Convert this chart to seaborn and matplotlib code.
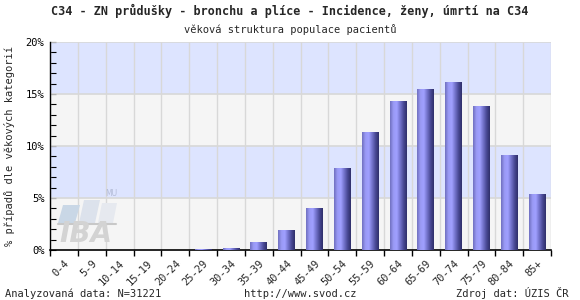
import numpy as np
import pandas as pd
import matplotlib
matplotlib.use("Agg")
import matplotlib.pyplot as plt
from matplotlib.colors import LinearSegmentedColormap
from matplotlib.patches import Polygon
import seaborn as sns

categories = ["0-4", "5-9", "10-14", "15-19", "20-24", "25-29", "30-34", "35-39",
              "40-44", "45-49", "50-54", "55-59", "60-64", "65-69", "70-74",
              "75-79", "80-84", "85+"]
values = [0.0, 0.0, 0.0, 0.0, 0.01, 0.1, 0.2, 0.78, 1.92, 4.04, 7.9, 11.35,
          14.3, 15.5, 16.15, 13.85, 9.13, 5.38]
ytick_vals = [0, 5, 10, 15, 20]
ytick_labels = ["0%", "5%", "10%", "15%", "20%"]

title = "C34 - ZN průdušky - bronchu a plíce - Incidence, ženy, úmrtí na C34"
subtitle = "věková struktura populace pacientů"
ylabel = "% případů dle věkových kategorií"
foot_left = "Analyzovaná data: N=31221"
foot_mid = "http://www.svod.cz"
foot_right = "Zdroj dat: ÚZIS ČR"

sns.set_theme(style="white")
plt.rcParams["font.family"] = ["DejaVu Sans Mono", "DejaVu Sans"]

df = pd.DataFrame({"cat": categories, "val": values})

fig = plt.figure(figsize=(5.8, 3.0), dpi=100)
ax = fig.add_axes([50/580, 50/300, 501/580, 208/300])

sns.barplot(data=df, x="cat", y="val", color="#8888dd", width=0.6, ax=ax,
            zorder=3, saturation=1, edgecolor="none")

n = len(categories)

# gradient fill for bars
cmap = LinearSegmentedColormap.from_list(
    "cyl", ["#7070c0", "#9a9af5", "#a0a0ff", "#7474cc", "#4a4a96", "#2f2f6a"])
grad = np.linspace(0, 1, 64).reshape(1, -1)
for p in list(ax.containers[0].patches):
    h = p.get_height()
    if h <= 0:
        continue
    x0 = p.get_x(); w = p.get_width()
    p.set_facecolor("none")
    im = ax.imshow(grad, cmap=cmap, aspect="auto", extent=[x0, x0 + w, 0, h],
                   zorder=3, interpolation="bilinear")
    im.set_clip_path(p)

# background bands
for i, lo in enumerate(range(0, 20, 5)):
    ax.axhspan(lo, lo + 5, color="#f5f5f5" if i % 2 == 0 else "#dde4ff", zorder=0, lw=0)

ax.set_xlim(-0.5, n - 0.5)
ax.set_ylim(0, 20)
ax.set_aspect("auto")

# grid lines
for xb in np.arange(-0.5, n, 1.0):
    ax.axvline(xb, color="#d8d8d8", lw=1, zorder=1)
for yv in ytick_vals[1:]:
    ax.axhline(yv, color="#d8d8d8", lw=1.2, zorder=1)

# watermark logo (pixel-based decoration)
def px(x, y):
    return ((x - 50) / (501 / n) - 0.5, (250 - y) / 10.4)

blocks = [
    ([(58, 223), (75, 223), (80, 205), (63, 205)], "#c9d7e6"),
    ([(79, 223), (95, 223), (100, 200), (84, 200)], "#dce2ec"),
    ([(98, 223), (113, 223), (117, 203), (102, 203)], "#e6e9ef"),
]
for pts, col in blocks:
    ax.add_patch(Polygon([px(*q) for q in pts], closed=True, facecolor=col,
                         edgecolor="none", zorder=2))
(lx0, ly), (lx1, _) = px(58, 224), px(116, 224)
ax.plot([lx0, lx1], [ly, ly], color="#c8c8c8", lw=1.5, zorder=2)
tx, ty = px(86, 248)
ax.text(tx, ty, "IBA", fontsize=20, fontweight="bold", style="italic",
        color="#d3d3d3", family="DejaVu Sans", ha="center", va="bottom", zorder=2)
mx, my = px(111, 198)
ax.text(mx, my, "MU", fontsize=5.5, color="#b4bcd8", family="DejaVu Sans",
        ha="center", va="bottom", zorder=2)

for s in ["top", "right"]:
    ax.spines[s].set_visible(False)
ax.spines["left"].set_color("black")
ax.spines["bottom"].set_color("black")
ax.spines["left"].set_linewidth(1)
ax.spines["bottom"].set_linewidth(1.2)

ax.set_yticks(ytick_vals)
ax.set_yticklabels(ytick_labels, fontsize=7.5)
ax.set_yticks(np.arange(0, 21, 1), minor=True)
ax.tick_params(axis="y", which="both", direction="in", length=4, width=0.8,
               colors="black", left=True, pad=4)

ax.set_xticks(range(n))
ax.set_xticklabels(categories, rotation=45, ha="right", rotation_mode="anchor",
                   fontsize=7.5)
ax.set_xticks(np.arange(-0.5, n, 1.0), minor=True)
ax.tick_params(axis="x", which="major", length=0, pad=6)
ax.tick_params(axis="x", which="minor", direction="out", length=4, width=1,
               colors="black", bottom=True)

ax.set_xlabel("")
ax.set_ylabel(ylabel, fontsize=7.5, labelpad=8)

fig.text(0.5, 1 - 15/300, title, ha="center", va="baseline", fontsize=8.5,
         fontweight="bold")
fig.text(0.5, 1 - 33/300, subtitle, ha="center", va="baseline", fontsize=7.5)
fig.text(5/580, 1 - 297/300, foot_left, ha="left", va="baseline", fontsize=7.5)
fig.text(300/580, 1 - 297/300, foot_mid, ha="center", va="baseline", fontsize=7.5)
fig.text(569/580, 1 - 297/300, foot_right, ha="right", va="baseline", fontsize=7.5)

fig.savefig("out.png", dpi=100, facecolor="white")
